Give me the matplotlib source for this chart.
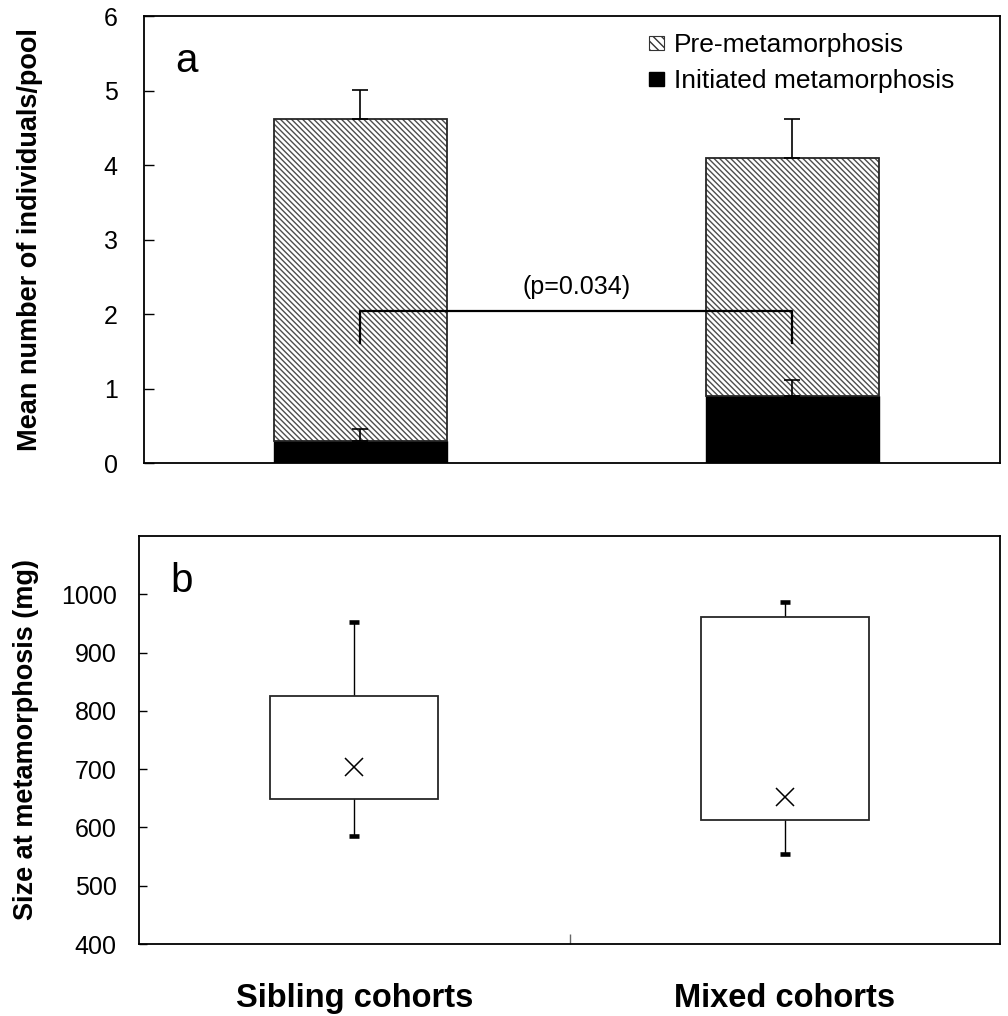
import numpy as np
import matplotlib
matplotlib.use("Agg")
import matplotlib.pyplot as plt
from matplotlib.patches import Patch

plt.rcParams['font.family'] = ['Liberation Sans', 'DejaVu Sans']
plt.rcParams['hatch.linewidth'] = 1.0

# panel a: mean number of individuals per pool
groups = ['Sibling cohorts', 'Mixed cohorts']
init_mean = [0.30, 0.90]     # initiated metamorphosis
init_se = [0.15, 0.22]
pre_mean = [4.32, 3.20]      # pre-metamorphosis (stacked on top)
total_se = [0.39, 0.52]
p_text = '(p=0.034)'
bracket_top = 2.04
bracket_bottom = 1.61

# panel b: size at metamorphosis (mg)
size_low = [586, 554]
size_q1 = [648, 613]
size_q3 = [826, 961]
size_high = [952, 987]
size_mean = [704, 652]

x = np.arange(len(groups))
total = np.array(init_mean) + np.array(pre_mean)
hatch = '\\\\\\\\\\\\'

fig = plt.figure(figsize=(10.08, 10.16), dpi=100)
ax1 = fig.add_axes([144/1008, 1-463/1016, 856/1008, 447/1016])
ax2 = fig.add_axes([139/1008, 1-944/1016, 861/1008, 408/1016])

# --- panel a
bw = 0.40
ax1.bar(x, init_mean, bw, color='black', edgecolor='black', lw=1, zorder=2)
ax1.bar(x, pre_mean, bw, bottom=init_mean, color='white', edgecolor='0.3', hatch=hatch,
        lw=0, zorder=2)
ax1.bar(x, pre_mean, bw, bottom=init_mean, fill=False, edgecolor='0.15', lw=1.3, zorder=3)
ax1.errorbar(x, total, yerr=[np.zeros(2), total_se], fmt='none', ecolor='black',
             elinewidth=1.2, capsize=6, capthick=1.2, zorder=4)
ax1.errorbar(x, init_mean, yerr=[np.zeros(2), init_se], fmt='none', ecolor='black',
             elinewidth=1.2, capsize=6, capthick=1.2, zorder=4)
ax1.plot([x[0], x[0], x[1], x[1]], [bracket_bottom, bracket_top, bracket_top, bracket_bottom],
         color='black', lw=1.6, zorder=5)
ax1.text(0.5, 2.36, p_text, ha='center', va='center', fontsize=18)
ax1.text(0.036, 0.875, 'a', transform=ax1.transAxes, fontsize=29, va='baseline')

ax1.set_xlim(-0.5, 1.48)
ax1.set_ylim(0, 6)
ax1.set_yticks(range(7))
ax1.set_xticks([])
ax1.tick_params(axis='y', direction='in', length=7, width=1, labelsize=18, pad=19)
ax1.set_ylabel('Mean number of individuals/pool', fontsize=19.5, fontweight='bold', va='center')
ax1.yaxis.set_label_coords(-0.133, 0.5)

handles = [Patch(facecolor='white', edgecolor='0.2', hatch='\\\\\\\\', lw=0.8),
           Patch(facecolor='black', edgecolor='black')]
ax1.legend(handles, ['Pre-metamorphosis', 'Initiated metamorphosis'], loc='upper right',
           bbox_to_anchor=(0.947, 0.961), frameon=False, fontsize=19,
           handlelength=0.55, handleheight=0.45, handletextpad=0.4,
           labelspacing=0.45, borderaxespad=0, borderpad=0)

# --- panel b
boxw = 0.39
ax2.plot([x, x], [size_q3, size_high], color='black', lw=1, zorder=1)
ax2.plot([x, x], [size_low, size_q1], color='black', lw=1, zorder=1)
ax2.bar(x, np.array(size_q3) - np.array(size_q1), boxw, bottom=size_q1, color='white',
        edgecolor='0.15', lw=1.3, zorder=2)
ax2.plot(x, size_high, ls='none', marker='_', ms=7.5, mew=3.3, color='black')
ax2.plot(x, size_low, ls='none', marker='_', ms=7.5, mew=3.3, color='black')
ax2.plot(x, size_mean, ls='none', marker='x', ms=13, mew=1.1, color='black', zorder=3)
ax2.text(0.037, 0.863, 'b', transform=ax2.transAxes, fontsize=29, va='baseline')

ax2.set_xlim(-0.5, 1.5)
ax2.set_ylim(400, 1100)
ax2.set_yticks(range(400, 1001, 100))
ax2.set_xticks(x)
ax2.set_xticklabels(groups, fontsize=23.5, fontweight='bold')
ax2.tick_params(axis='x', which='major', length=0, pad=28)
ax2.set_xticks([0.5], minor=True)
ax2.tick_params(axis='x', which='minor', direction='in', length=7, width=1, color='0.4')
ax2.tick_params(axis='y', direction='in', length=6, width=1, labelsize=18, pad=16)
ax2.set_ylabel('Size at metamorphosis (mg)', fontsize=19.5, fontweight='bold', va='center')
ax2.yaxis.set_label_coords(-0.131, 0.5)

for ax in (ax1, ax2):
    for s in ax.spines.values():
        s.set_linewidth(1.3)

fig.savefig('out.png', dpi=100)
